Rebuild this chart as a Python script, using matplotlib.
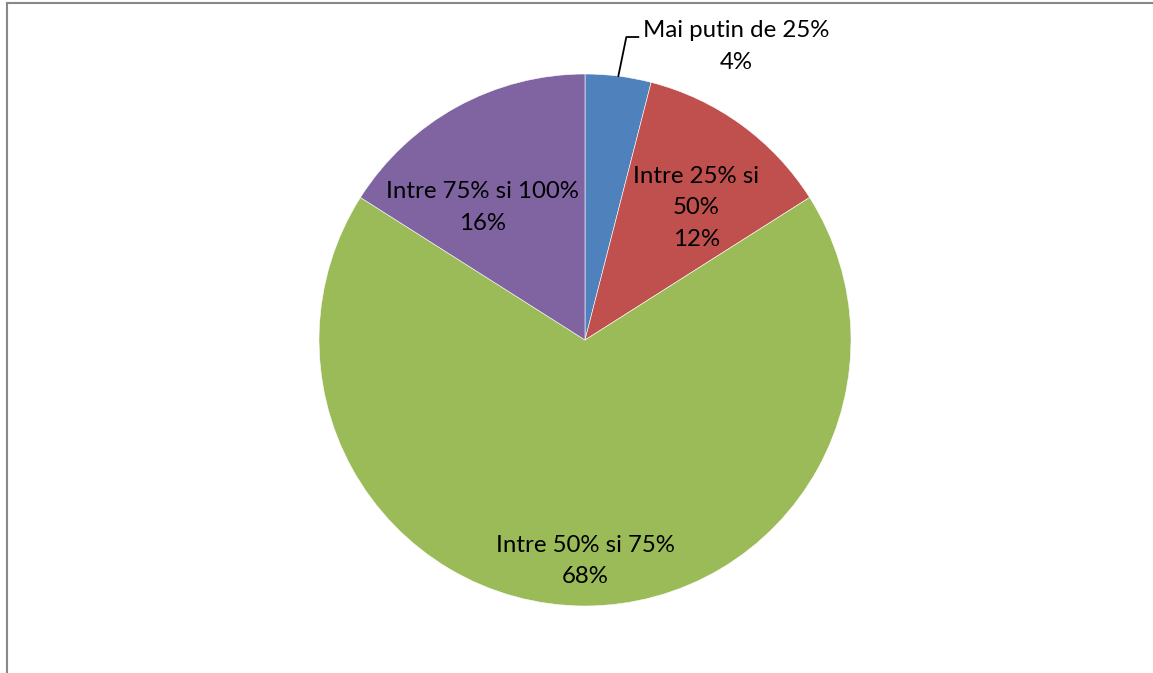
import matplotlib.pyplot as plt
import numpy as np
from matplotlib.lines import Line2D

categories = ['Mai putin de 25%', 'Intre 25% si\n50%', 'Intre 50% si 75%', 'Intre 75% si 100%']
values = [4, 12, 68, 16]
colors = ['#4F81BD', '#C0504D', '#9BBB59', '#8064A2']

# label placement: (radius fraction, angle tweak in degrees)
label_pos = [None, (0.65, -4), (0.83, 0), (0.63, 9)]

W, H = 1153, 673
cx, cy, R = 585, H - 340, 266
FS = 17.3
LS = 1.62

plt.rcParams['font.family'] = ['Lato', 'DejaVu Sans']

fig = plt.figure(figsize=(W / 100, H / 100), dpi=100)
ax = fig.add_axes([0, 0, 1, 1])

wedges, _ = ax.pie(values, colors=colors, startangle=90, counterclock=False,
                   center=(cx, cy), radius=R, frame=True,
                   wedgeprops=dict(edgecolor='white', linewidth=0.4))
ax.set_xlim(0, W)
ax.set_ylim(0, H)
ax.set_aspect('equal')
ax.axis('off')

total = sum(values)
for i, (w, cat, v) in enumerate(zip(wedges, categories, values)):
    mid = np.deg2rad((w.theta1 + w.theta2) / 2)
    txt = f'{cat}\n{round(100 * v / total)}%'
    if label_pos[i] is None:
        # outside label with leader line
        x0, y0 = cx + R * np.cos(mid), cy + R * np.sin(mid)
        xk, yk = x0 + 8, H - 37
        ax.add_line(Line2D([x0, xk, xk + 12], [y0, yk, yk], color='black', lw=1.3))
        ax.text(xk + 110, H - 46.5, txt, ha='center', va='center', fontsize=FS,
                linespacing=LS)
    else:
        f, tw = label_pos[i]
        a = mid + np.deg2rad(tw)
        ax.text(cx + f * R * np.cos(a), cy + f * R * np.sin(a), txt,
                ha='center', va='center', fontsize=FS, linespacing=LS)

# chart area border (top and left visible)
fig.add_artist(Line2D([6.5 / W, 6.5 / W], [0, 1 - 2.5 / H], transform=fig.transFigure,
                      color='#888888', lw=1.5))
fig.add_artist(Line2D([6.5 / W, 1], [1 - 2.5 / H, 1 - 2.5 / H], transform=fig.transFigure,
                      color='#888888', lw=1.5))

fig.savefig('out.png', dpi=100)
